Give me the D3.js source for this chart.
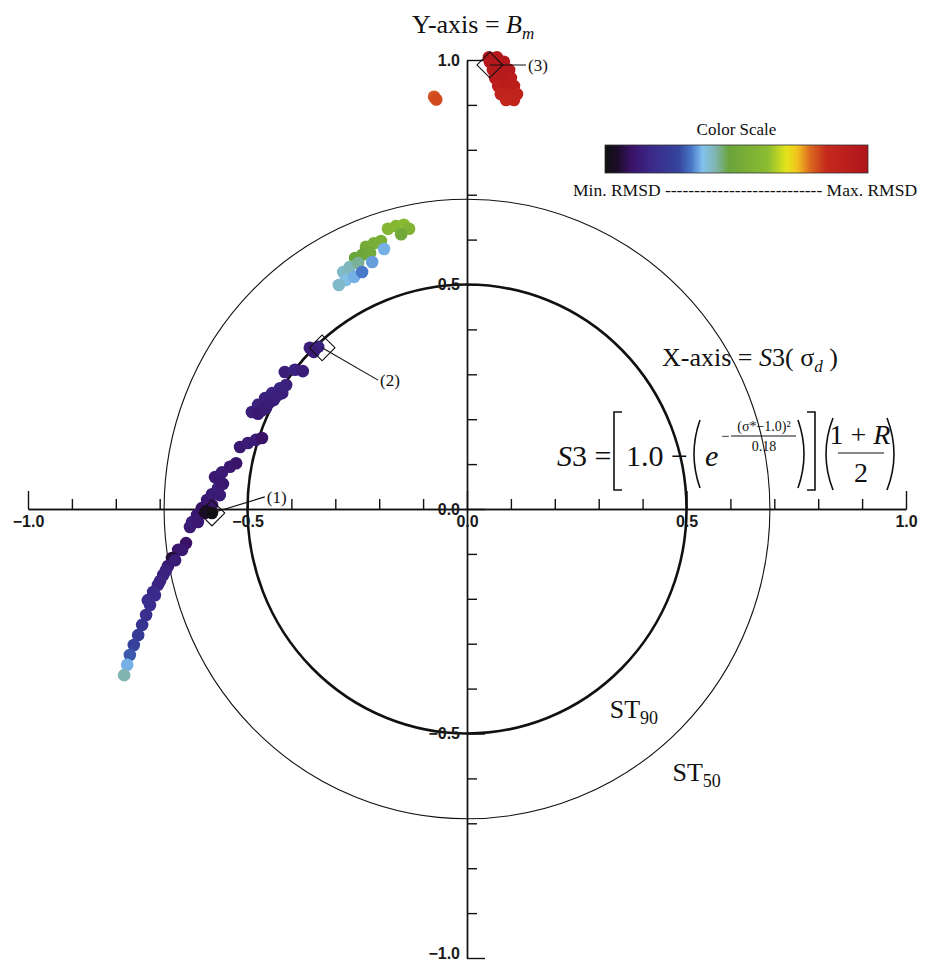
<!DOCTYPE html>
<html>
<head>
<meta charset="utf-8">
<script src="https://cdn.jsdelivr.net/npm/d3@7"></script>
<style>
  html, body { margin: 0; padding: 0; background: #fff; }
  svg { display: block; }
  .serif { font-family: "Liberation Serif", "Times New Roman", serif; fill: #111; }
  .tick-label { font-family: "Liberation Sans", Arial, sans-serif; font-size: 16px; font-weight: bold; fill: #1a1a1a; }
</style>
</head>
<body>
<svg id="chart" width="931" height="963"></svg>
<script>
// ---- Data (x = S3(sigma_d), y = B_m, v = normalised RMSD 0..1) ----
const redCluster = [
  [0.050, 1.006, 0.98], [0.068, 1.006, 0.98],
  [0.052, 0.996, 0.97], [0.071, 0.996, 0.97], [0.084, 0.996, 0.97],
  [0.059, 0.978, 0.96], [0.077, 0.978, 0.96], [0.096, 0.978, 0.96],
  [0.064, 0.960, 0.94], [0.082, 0.960, 0.95], [0.100, 0.960, 0.94],
  [0.071, 0.942, 0.92], [0.089, 0.942, 0.93], [0.107, 0.942, 0.92],
  [0.077, 0.924, 0.89], [0.096, 0.924, 0.90], [0.114, 0.924, 0.89],
  [0.089, 0.911, 0.87], [0.107, 0.911, 0.88]
];
const orangeCluster = [
  [-0.075, 0.918, 0.80], [-0.070, 0.912, 0.81]
];
const greenCluster = [
  [-0.180, 0.624, 0.58], [-0.162, 0.630, 0.59], [-0.144, 0.633, 0.60], [-0.132, 0.624, 0.57],
  [-0.150, 0.612, 0.50],
  [-0.230, 0.584, 0.52], [-0.212, 0.592, 0.53], [-0.196, 0.597, 0.54], [-0.189, 0.579, 0.36],
  [-0.255, 0.559, 0.47], [-0.239, 0.566, 0.48], [-0.221, 0.570, 0.50], [-0.216, 0.550, 0.35],
  [-0.282, 0.528, 0.40], [-0.267, 0.539, 0.41], [-0.248, 0.548, 0.43],
  [-0.276, 0.510, 0.38], [-0.257, 0.517, 0.36], [-0.239, 0.528, 0.33], [-0.292, 0.499, 0.40]
];
const purpleCluster = [
  [-0.358, 0.359, 0.14], [-0.339, 0.361, 0.15], [-0.349, 0.350, 0.13],
  [-0.415, 0.305, 0.14], [-0.392, 0.310, 0.15], [-0.374, 0.307, 0.14],
  [-0.490, 0.216, 0.14], [-0.476, 0.232, 0.15], [-0.460, 0.247, 0.15], [-0.444, 0.258, 0.16],
  [-0.426, 0.269, 0.16], [-0.412, 0.276, 0.15], [-0.467, 0.220, 0.13], [-0.449, 0.238, 0.14],
  [-0.431, 0.254, 0.15], [-0.476, 0.212, 0.12], [-0.458, 0.225, 0.13], [-0.440, 0.243, 0.14],
  [-0.421, 0.258, 0.15],
  [-0.517, 0.138, 0.12], [-0.499, 0.147, 0.13], [-0.481, 0.154, 0.13], [-0.467, 0.158, 0.10],
  [-0.574, 0.071, 0.12], [-0.558, 0.082, 0.13], [-0.540, 0.094, 0.12], [-0.526, 0.102, 0.11],
  [-0.631, -0.040, 0.13], [-0.626, -0.029, 0.14], [-0.615, -0.013, 0.12], [-0.604, 0.002, 0.10],
  [-0.592, 0.020, 0.12], [-0.581, 0.033, 0.13], [-0.567, 0.047, 0.14], [-0.556, 0.056, 0.12],
  [-0.613, -0.029, 0.12], [-0.597, -0.009, 0.08], [-0.581, 0.009, 0.11], [-0.563, 0.031, 0.13],
  [-0.595, -0.005, 0.05], [-0.581, -0.009, 0.01]
];
const tailCluster = [
  [-0.640, -0.076, 0.10], [-0.658, -0.091, 0.11], [-0.672, -0.109, 0.06], [-0.681, -0.127, 0.12],
  [-0.692, -0.147, 0.14], [-0.704, -0.169, 0.16], [-0.711, -0.192, 0.18], [-0.722, -0.214, 0.19],
  [-0.731, -0.236, 0.20], [-0.740, -0.258, 0.22], [-0.749, -0.281, 0.24], [-0.759, -0.303, 0.27],
  [-0.768, -0.325, 0.30], [-0.774, -0.347, 0.36], [-0.781, -0.370, 0.42],
  [-0.649, -0.091, 0.12], [-0.665, -0.114, 0.13], [-0.686, -0.137, 0.15], [-0.699, -0.160, 0.16],
  [-0.715, -0.185, 0.18], [-0.727, -0.203, 0.19]
];

// Highlighted cases with their labels
const markers = [
  { name: "(1)", x: -0.581, y: -0.009, lx: -0.456, ly: 0.027 },
  { name: "(2)", x: -0.330, y: 0.359, lx: -0.198, ly: 0.287 },
  { name: "(3)", x: 0.052, y: 0.989, lx: 0.139, ly: 0.989 }
];

// Skill-score threshold circles
const thresholds = [
  { name: "ST", sub: "90", r: 0.5, width: 2.6, lx: 0.325, ly: -0.465 },
  { name: "ST", sub: "50", r: 0.69, width: 1.1, lx: 0.468, ly: -0.605 }
];

// Axis ticks
const majorTicks = [-1.0, -0.5, 0.0, 0.5, 1.0];
const minorTicks = [-0.9, -0.8, -0.7, -0.6, -0.4, -0.3, -0.2, -0.1, 0.1, 0.2, 0.3, 0.4, 0.6, 0.7, 0.8, 0.9];
const tickLabels = ["\u22121.0", "\u22120.5", "0.0", "0.5", "1.0"];

// Colour scale (RMSD, min -> max)
const colorStops = [0.00, 0.05, 0.10, 0.18, 0.28, 0.33, 0.37, 0.42, 0.47, 0.62, 0.69, 0.73, 0.78, 0.84, 1.00];
const colorValues = ["#101010", "#1c0c2a", "#3a1268", "#3b2a8a", "#34449c", "#4a78c8", "#82c2ee",
  "#80b4b0", "#6aa43c", "#8cbc30", "#e4e41c", "#f2c41e", "#dc6a20", "#c42a1c", "#b0141c"];

// ---- Scales ----
const svg = d3.select("#chart");
const x = d3.scaleLinear().domain([-1, 1]).range([28, 906]);
const y = d3.scaleLinear().domain([-1, 1]).range([958, 60]);
const color = d3.scaleLinear().domain(colorStops).range(colorValues).interpolate(d3.interpolateRgb);

// ---- Threshold circles ----
svg.append("g").selectAll("ellipse").data(thresholds).join("ellipse")
  .attr("cx", x(0)).attr("cy", y(0))
  .attr("rx", d => x(d.r) - x(0)).attr("ry", d => y(0) - y(d.r))
  .attr("fill", "none").attr("stroke", "#111").attr("stroke-width", d => d.width);

// ---- Axes ----
const axes = svg.append("g").attr("class", "axes");
axes.append("g").attr("transform", `translate(0,${y(0)})`)
  .call(d3.axisTop(x).tickValues(majorTicks).tickSize(18).tickSizeOuter(0).tickFormat(""));
axes.append("g").attr("transform", `translate(0,${y(0)})`)
  .call(d3.axisTop(x).tickValues(minorTicks).tickSize(10).tickSizeOuter(0).tickFormat(""));
axes.append("g").attr("transform", `translate(${x(0)},0)`)
  .call(d3.axisRight(y).tickValues(majorTicks).tickSize(18).tickSizeOuter(0).tickFormat(""));
axes.append("g").attr("transform", `translate(${x(0)},0)`)
  .call(d3.axisRight(y).tickValues(minorTicks).tickSize(10).tickSizeOuter(0).tickFormat(""));
axes.selectAll("path.domain, line").attr("stroke", "#111").attr("stroke-width", 1.4);

// tick labels
const labelFmt = d => tickLabels[majorTicks.indexOf(d)];
const xl = axes.append("g").attr("transform", `translate(0,${y(0)})`)
  .call(d3.axisBottom(x).tickValues(majorTicks).tickSize(0).tickPadding(7).tickFormat(labelFmt));
const yl = axes.append("g").attr("transform", `translate(${x(0) - 1},0)`)
  .call(d3.axisLeft(y).tickValues(majorTicks).tickSize(0).tickPadding(6).tickFormat(labelFmt));
[xl, yl].forEach(g => {
  g.select("path.domain").remove();
  g.selectAll("text").attr("class", "tick-label").attr("font-size", null).attr("font-family", null).attr("fill", null);
  g.attr("font-size", null).attr("font-family", null);
});
// keep the lowest y label inside the frame
yl.selectAll(".tick").filter(d => d === -1).select("text").attr("dy", "0.05em");

// ---- Data points ----
const allPoints = [].concat(tailCluster, purpleCluster, greenCluster, orangeCluster, redCluster);
svg.append("g").selectAll("circle").data(allPoints).join("circle")
  .attr("cx", d => x(d[0])).attr("cy", d => y(d[1]))
  .attr("r", 6.3)
  .attr("fill", d => color(d[2]));

// ---- Markers ----
const mk = svg.append("g");
mk.selectAll("line").data(markers).join("line")
  .attr("x1", d => x(d.x)).attr("y1", d => y(d.y))
  .attr("x2", d => x(d.lx) - 2).attr("y2", d => y(d.ly))
  .attr("stroke", "#111").attr("stroke-width", 1.1);
mk.selectAll("path").data(markers).join("path")
  .attr("d", d3.symbol(d3.symbolSquare, 330)())
  .attr("transform", d => `translate(${x(d.x)},${y(d.y)}) rotate(45)`)
  .attr("fill", "none").attr("stroke", "#111").attr("stroke-width", 1.1);
mk.selectAll("text").data(markers).join("text")
  .attr("class", "serif").attr("font-size", 17)
  .attr("x", d => x(d.lx)).attr("y", d => y(d.ly) + 6)
  .text(d => d.name);

// ---- Threshold labels ----
const tl = svg.append("g").selectAll("text").data(thresholds).join("text")
  .attr("class", "serif").attr("font-size", 26)
  .attr("x", d => x(d.lx)).attr("y", d => y(d.ly));
tl.append("tspan").text(d => d.name);
tl.append("tspan").attr("font-size", 18).attr("dy", 6).text(d => d.sub);

// ---- Titles ----
const title = svg.append("text").attr("class", "serif").attr("font-size", 26).attr("x", 412).attr("y", 33);
title.append("tspan").text("Y-axis = ");
title.append("tspan").attr("font-style", "italic").text("B");
title.append("tspan").attr("font-style", "italic").attr("font-size", 17).attr("dy", 6).text("m");

const xTitle = svg.append("text").attr("class", "serif").attr("font-size", 26).attr("x", 662).attr("y", 366);
xTitle.append("tspan").text("X-axis = ");
xTitle.append("tspan").attr("font-style", "italic").text("S");
xTitle.append("tspan").text("3( \u03c3");
xTitle.append("tspan").attr("font-style", "italic").attr("font-size", 17).attr("dy", 6).text("d");
xTitle.append("tspan").attr("dy", -6).text(" )");

// ---- Formula ----
const f = svg.append("g").attr("class", "serif");
const fs = 30, base = 466;
const s3 = f.append("text").attr("font-size", fs).attr("x", 557).attr("y", base);
s3.append("tspan").attr("font-style", "italic").text("S");
s3.append("tspan").text("3 =");
const bracket = (x0, y0, y1, w, dir) => `M${x0 + dir * w},${y0}H${x0}V${y1}H${x0 + dir * w}`;
f.append("path").attr("d", bracket(614, 412, 490, 8, 1)).attr("fill", "none").attr("stroke", "#111").attr("stroke-width", 1.6);
f.append("text").attr("font-size", fs).attr("x", 626).attr("y", base).text("1.0 \u2212");
f.append("path").attr("d", "M700,420 Q688,454 700,488").attr("fill", "none").attr("stroke", "#111").attr("stroke-width", 1.6);
f.append("text").attr("font-size", fs).attr("font-style", "italic").attr("x", 705).attr("y", base).text("e");
f.append("text").attr("font-size", 15).attr("x", 721).attr("y", 441).text("\u2212");
f.append("line").attr("x1", 731).attr("x2", 796).attr("y1", 436).attr("y2", 436).attr("stroke", "#111").attr("stroke-width", 1);
f.append("text").attr("font-size", 14).attr("text-anchor", "middle").attr("x", 764).attr("y", 431).text("(\u03c3*\u22121.0)\u00b2");
f.append("text").attr("font-size", 14).attr("text-anchor", "middle").attr("x", 764).attr("y", 451).text("0.18");
f.append("path").attr("d", "M798,420 Q810,454 798,488").attr("fill", "none").attr("stroke", "#111").attr("stroke-width", 1.6);
f.append("path").attr("d", bracket(815, 412, 490, 8, -1)).attr("fill", "none").attr("stroke", "#111").attr("stroke-width", 1.6);
f.append("path").attr("d", "M833,418 Q819,454 833,490").attr("fill", "none").attr("stroke", "#111").attr("stroke-width", 1.6);
const num = f.append("text").attr("font-size", 28).attr("text-anchor", "middle").attr("x", 860).attr("y", 444);
num.append("tspan").text("1 + ");
num.append("tspan").attr("font-style", "italic").text("R");
f.append("line").attr("x1", 838).attr("x2", 884).attr("y1", 453).attr("y2", 453).attr("stroke", "#111").attr("stroke-width", 1.2);
f.append("text").attr("font-size", 28).attr("text-anchor", "middle").attr("x", 861).attr("y", 482).text("2");
f.append("path").attr("d", "M887,418 Q901,454 887,490").attr("fill", "none").attr("stroke", "#111").attr("stroke-width", 1.6);

// ---- Colour scale legend ----
const defs = svg.append("defs");
const grad = defs.append("linearGradient").attr("id", "rmsd-grad");
grad.selectAll("stop").data(colorStops).join("stop")
  .attr("offset", d => d * 100 + "%").attr("stop-color", d => color(d));
const legendX = d3.scaleLinear().domain([0, 1]).range([605, 868]);
svg.append("rect").attr("x", legendX(0)).attr("y", 145)
  .attr("width", legendX(1) - legendX(0)).attr("height", 28)
  .attr("fill", "url(#rmsd-grad)").attr("stroke", "#333").attr("stroke-width", 0.8);
svg.append("text").attr("class", "serif").attr("font-size", 17).attr("text-anchor", "middle")
  .attr("x", (legendX(0) + legendX(1)) / 2).attr("y", 135).text("Color Scale");
svg.append("text").attr("class", "serif").attr("font-size", 17.5).attr("x", 573).attr("y", 196)
  .text("Min. RMSD " + "-".repeat(27) + " Max. RMSD");
</script>
</body>
</html>
